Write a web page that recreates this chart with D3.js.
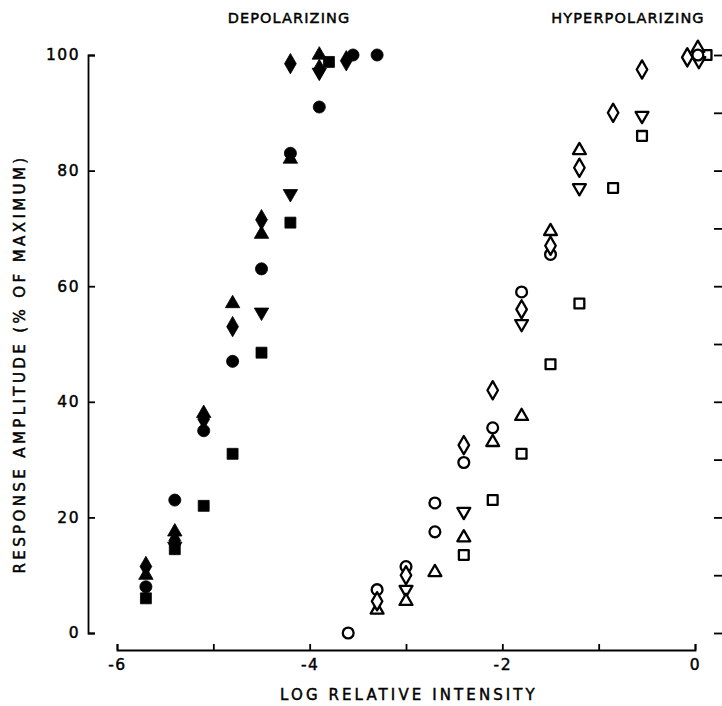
<!DOCTYPE html>
<html lang="en">
<head>
<meta charset="UTF-8" />
<title>Response amplitude</title>
<script src="https://d3js.org/d3.v7.min.js"></script>
<style>
  body { margin: 0; background: #fff; }
  text { font-family: "DejaVu Sans", sans-serif; fill: #000; stroke: #000; stroke-width: 0.45px; }
</style>
</head>
<body>
<div class="canvas"></div>
<script>
// --- data: [log relative intensity, response % of max] ---
// depolarizing (filled symbols)
const depCircle   = [[-5.7, 8], [-5.4, 23], [-5.1, 35], [-4.8, 47], [-4.5, 63], [-4.2, 83], [-3.9, 91], [-3.55, 100], [-3.3, 100]];
const depTriangle = [[-5.7, 10], [-5.4, 17.5], [-5.1, 38], [-4.8, 57], [-4.5, 69], [-4.2, 82], [-3.9, 100]];
const depTriDown  = [[-5.4, 15], [-4.5, 55.5], [-4.2, 76], [-3.9, 97]];
const depDiamond  = [[-5.7, 11.5], [-5.4, 16], [-5.1, 37], [-4.8, 53], [-4.5, 71.5], [-4.2, 98.5], [-3.9, 97.5], [-3.62, 99]];
const depSquare   = [[-5.7, 6], [-5.4, 14.5], [-5.1, 22], [-4.8, 31], [-4.5, 48.5], [-4.2, 71], [-3.8, 98.8]];
// hyperpolarizing (open symbols)
const hypCircle   = [[-3.6, 0], [-3.3, 7.5], [-3.0, 11.5], [-2.7, 22.5], [-2.7, 17.5], [-2.4, 29.5], [-2.1, 35.5], [-1.8, 59], [-1.5, 65.5], [0.03, 100]];
const hypTriangle = [[-3.3, 4], [-3.0, 5.5], [-2.7, 10.5], [-2.4, 16.5], [-2.1, 33], [-1.8, 37.5], [-1.5, 69.5], [-1.2, 83.5], [0.03, 101.2]];
const hypTriDown  = [[-3.0, 7.5], [-2.4, 21], [-1.8, 53.5], [-1.2, 77], [-0.55, 89.5], [0.04, 99]];
const hypDiamond  = [[-3.3, 5.5], [-3.0, 10], [-2.4, 32.5], [-2.1, 42], [-1.8, 56], [-1.5, 67], [-1.2, 80.5], [-0.85, 90], [-0.55, 97.5], [-0.08, 99.6]];
const hypSquare   = [[-2.4, 13.5], [-2.1, 23], [-1.8, 31], [-1.5, 46.5], [-1.2, 57], [-0.85, 77], [-0.55, 86], [0.12, 100]];

const xTicks = [-6, -5, -4, -3, -2, -1, 0];
const xLabels = [-6, -4, -2, 0];
const yTicks = [0, 20, 40, 60, 80, 100];
const yRightTicks = [0, 10, 20, 30, 40, 50, 60, 70, 80, 90, 100];

// --- layout ---
const W = 722, H = 706;
const svg = d3.select(".canvas").append("svg").attr("width", W).attr("height", H);

const x = d3.scaleLinear().domain([-6, 0]).range([117, 695]);
const y = d3.scaleLinear().domain([0, 100]).range([633, 55]);

// x axis (ticks pointing up, labels only on even values)
const gx = svg.append("g")
  .attr("transform", "translate(0,650)")
  .call(d3.axisBottom(x).tickValues(xTicks).tickSize(-6).tickSizeOuter(-6).tickPadding(9)
    .tickFormat(d => xLabels.includes(d) ? (d === 0 ? "0" : "-" + Math.abs(d)) : ""));

// y axis on the left (ticks pointing inward)
const gy = svg.append("g")
  .attr("transform", "translate(88,0)")
  .call(d3.axisLeft(y).tickValues(yTicks).tickSize(-7).tickSizeOuter(-7).tickPadding(8));

// right-hand tick marks only
const gr = svg.append("g")
  .attr("transform", "translate(722,0)")
  .call(d3.axisRight(y).tickValues(yRightTicks).tickSize(-8).tickFormat(""));
gr.select(".domain").remove();

[gx, gy, gr].forEach(g => {
  g.selectAll("path, line").attr("stroke", "#000").attr("stroke-width", 1.8);
  g.selectAll("text").attr("font-size", 15.5).attr("letter-spacing", 1.5)
    .attr("font-family", "DejaVu Sans, sans-serif");
});

// axis titles
svg.append("text")
  .attr("x", 409).attr("y", 700)
  .attr("text-anchor", "middle")
  .attr("font-size", 15).attr("letter-spacing", 3.1)
  .text("LOG RELATIVE INTENSITY");

svg.append("text")
  .attr("transform", "translate(25,364) rotate(-90)")
  .attr("text-anchor", "middle")
  .attr("font-size", 15).attr("letter-spacing", 3.4)
  .text("RESPONSE AMPLITUDE (% OF MAXIMUM)");

svg.append("text")
  .attr("x", 289).attr("y", 23)
  .attr("text-anchor", "middle")
  .attr("font-size", 14.5).attr("letter-spacing", 1.1)
  .text("DEPOLARIZING");

svg.append("text")
  .attr("x", 628).attr("y", 23)
  .attr("text-anchor", "middle")
  .attr("font-size", 14.5).attr("letter-spacing", 1.1)
  .text("HYPERPOLARIZING");

// --- markers ---
const shapes = {
  circle:   { type: d3.symbolCircle,   size: 115, rot: 0 },
  triangle: { type: d3.symbolTriangle, size: 90,  rot: 0 },
  triDown:  { type: d3.symbolTriangle, size: 90,  rot: 180 },
  diamond:  { type: d3.symbolDiamond,  size: 120, rot: 0 },
  square:   { type: d3.symbolSquare,   size: 120, rot: 0 }
};

function drawSeries(data, shape, filled) {
  const s = shapes[shape];
  const size = filled ? s.size : s.size * 0.8;
  svg.append("g").selectAll("path")
    .data(data)
    .join("path")
    .attr("d", d3.symbol().type(s.type).size(size))
    .attr("transform", d => `translate(${x(d[0])},${y(d[1])}) rotate(${s.rot})`)
    .attr("fill", filled ? "#000" : "#fff")
    .attr("stroke", "#000")
    .attr("stroke-width", filled ? 0.8 : 2.3)
    .attr("stroke-linejoin", "round");
}

drawSeries(depSquare, "square", true);
drawSeries(depTriDown, "triDown", true);
drawSeries(depCircle, "circle", true);
drawSeries(depTriangle, "triangle", true);
drawSeries(depDiamond, "diamond", true);

drawSeries(hypSquare, "square", false);
drawSeries(hypTriDown, "triDown", false);
drawSeries(hypTriangle, "triangle", false);
drawSeries(hypCircle, "circle", false);
drawSeries(hypDiamond, "diamond", false);
</script>
</body>
</html>
